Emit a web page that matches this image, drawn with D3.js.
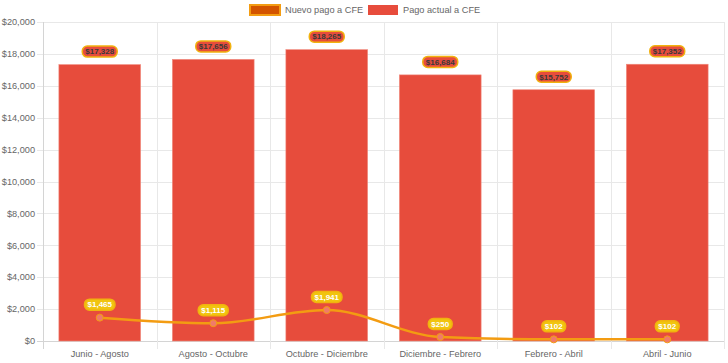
<!DOCTYPE html>
<html>
<head>
<meta charset="utf-8">
<script src="https://cdn.jsdelivr.net/npm/d3@7"></script>
<style>
  body { margin: 0; background: #fff; }
  svg { display: block; font-family: "Liberation Sans", Arial, sans-serif; }
</style>
</head>
<body>
<svg id="chart" width="728" height="363"></svg>
<script>
// Periods and payments
const periods = ['Junio - Agosto', 'Agosto - Octubre', 'Octubre - Diciembre', 'Diciembre - Febrero', 'Febrero - Abril', 'Abril - Junio'];
const pagoActual = [17328, 17656, 18265, 16684, 15752, 17352];
const nuevoPago = [1465, 1115, 1941, 250, 102, 102];
const yTicks = [0, 2000, 4000, 6000, 8000, 10000, 12000, 14000, 16000, 18000, 20000];
const legendItems = ['Nuevo pago a CFE', 'Pago actual a CFE'];

const width = 728, height = 363;
const margin = { top: 22, right: 4, bottom: 22, left: 43 };

const svg = d3.select('#chart');
const fmt = d3.format(',');

const x = d3.scaleBand()
  .domain(periods)
  .range([margin.left, width - margin.right])
  .paddingInner(0)
  .paddingOuter(0);

const y = d3.scaleLinear()
  .domain([0, 20000])
  .range([height - margin.bottom, margin.top]);

// horizontal grid
svg.append('g')
  .selectAll('line')
  .data(yTicks)
  .join('line')
  .attr('x1', margin.left - 6)
  .attr('x2', width - margin.right)
  .attr('y1', (d) => Math.round(y(d)) + 0.5)
  .attr('y2', (d) => Math.round(y(d)) + 0.5)
  .attr('stroke', (d) => (d === 0 ? '#d4d4d4' : '#e8e8e8'))
  .attr('stroke-width', 1);

// vertical grid at category edges
const edges = periods.map((p) => x(p)).concat([width - margin.right]);
svg.append('g')
  .selectAll('line')
  .data(edges)
  .join('line')
  .attr('x1', (d) => Math.round(d) + 0.5)
  .attr('x2', (d) => Math.round(d) + 0.5)
  .attr('y1', margin.top)
  .attr('y2', height - margin.bottom + 8)
  .attr('stroke', (d, i) => (i === 0 ? '#d4d4d4' : '#e8e8e8'));

// y labels
svg.append('g')
  .selectAll('text')
  .data(yTicks)
  .join('text')
  .attr('x', margin.left - 8)
  .attr('y', (d) => y(d))
  .attr('dy', '0.35em')
  .attr('text-anchor', 'end')
  .attr('font-size', 9.2)
  .attr('fill', '#666')
  .text((d) => '$' + fmt(d));

// x labels
svg.append('g')
  .selectAll('text')
  .data(periods)
  .join('text')
  .attr('x', (d) => x(d) + x.bandwidth() / 2)
  .attr('y', height - margin.bottom + 16)
  .attr('text-anchor', 'middle')
  .attr('font-size', 9.2)
  .attr('fill', '#666')
  .text((d) => d);

// bars
const barW = x.bandwidth() * 0.72;
svg.append('g')
  .selectAll('rect')
  .data(pagoActual)
  .join('rect')
  .attr('x', (d, i) => x(periods[i]) + (x.bandwidth() - barW) / 2)
  .attr('y', (d) => y(d))
  .attr('width', barW)
  .attr('height', (d) => y(0) - y(d))
  .attr('fill', '#e74c3c')
  .attr('stroke', '#f08a7e')
  .attr('stroke-width', 0.6);

// line
const cx = (i) => x(periods[i]) + x.bandwidth() / 2;
const line = d3.line()
  .x((d, i) => cx(i))
  .y((d) => y(d))
  .curve(d3.curveMonotoneX);

svg.append('path')
  .datum(nuevoPago)
  .attr('d', line)
  .attr('fill', 'none')
  .attr('stroke', '#f39c12')
  .attr('stroke-width', 2.5);

svg.append('g')
  .selectAll('circle')
  .data(nuevoPago)
  .join('circle')
  .attr('cx', (d, i) => cx(i))
  .attr('cy', (d) => y(d))
  .attr('r', 3.5)
  .attr('fill', '#f07a6a')
  .attr('stroke', '#f39c12')
  .attr('stroke-width', 1);

// data labels
function addLabels(values, bg, fg) {
  const g = svg.append('g');
  values.forEach((v, i) => {
    const lg = g.append('g')
      .attr('transform', `translate(${cx(i)},${y(v) - 13})`);
    const t = lg.append('text')
      .attr('text-anchor', 'middle')
      .attr('dy', '0.35em')
      .attr('font-size', 8)
      .attr('font-weight', 'bold')
      .attr('fill', fg)
      .text('$' + fmt(v));
    const w = t.node().getComputedTextLength() + 6;
    lg.insert('rect', 'text')
      .attr('x', -w / 2)
      .attr('y', -5.5)
      .attr('width', w)
      .attr('height', 11)
      .attr('rx', 5)
      .attr('fill', bg)
      .attr('stroke', '#f1b20f')
      .attr('stroke-width', 1.5);
  });
}
addLabels(pagoActual, '#e74c3c', '#3a3a3a');
addLabels(nuevoPago, '#f1c40f', '#fff');

// legend
const legend = svg.append('g').attr('font-size', 9.2).attr('fill', '#666');
const lx = [250, 368];
legendItems.forEach((name, i) => {
  legend.append('rect')
    .attr('x', lx[i])
    .attr('y', 5)
    .attr('width', 30)
    .attr('height', 10)
    .attr('fill', i === 0 ? '#d35400' : '#e74c3c')
    .attr('stroke', i === 0 ? '#f39c12' : 'none')
    .attr('stroke-width', 2);
  legend.append('text')
    .attr('x', lx[i] + 35)
    .attr('y', 10)
    .attr('dy', '0.35em')
    .text(name);
});
</script>
</body>
</html>
